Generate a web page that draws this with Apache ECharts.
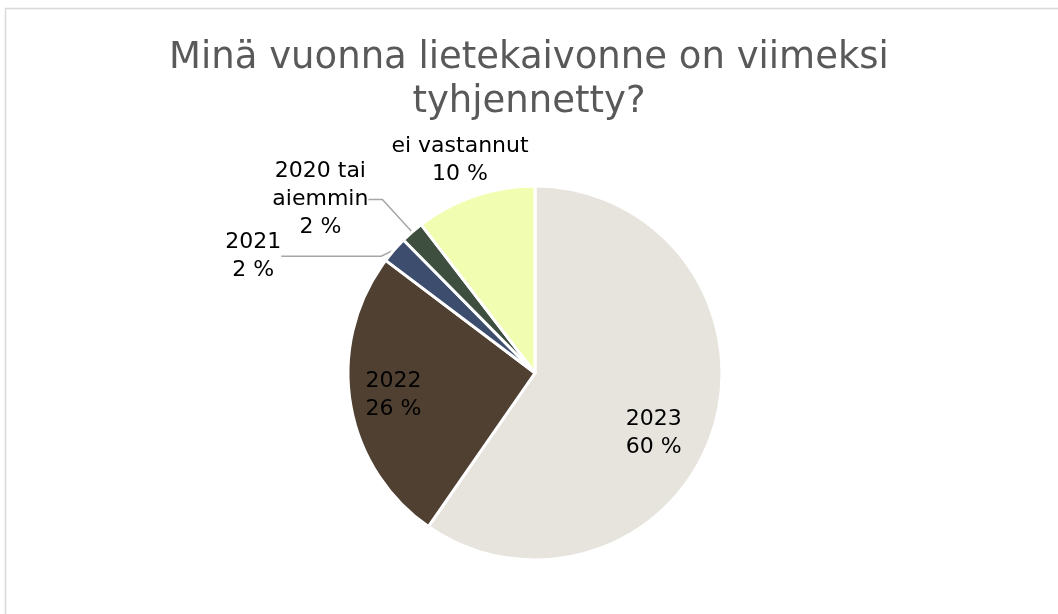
<!DOCTYPE html>
<html>
<head>
<meta charset="utf-8">
<script src="https://cdn.jsdelivr.net/npm/echarts@6/dist/echarts.min.js"></script>
<style>
  html, body { margin: 0; padding: 0; background: #fff; }
  #chart { width: 1058px; height: 614px; }
</style>
</head>
<body>
<div id="chart"></div>
<script>
// data
const categories = ['2023', '2022', '2021', '2020 tai\naiemmin', 'ei vastannut']
const shares = [59.6, 25.6, 2.3, 2.0, 10.4]
const colors = ['#e7e4de', '#4f4032', '#3d4d6e', '#3e4f40', '#f1fdb0']

const titleText = 'Minä vuonna lietekaivonne on viimeksi\ntyhjennetty?'

const chart = echarts.init(document.getElementById('chart'))

const R = 187
const center = [535, 373]
const labelFont = { fontFamily: 'DejaVu Sans', fontSize: 22, color: '#000', lineHeight: 28 }

// which labels go inside the slices, and leader line lengths for the outside ones
const inside = [true, true, false, false, false]
const lineLen = [[0, 0], [0, 0], [4, 100], [30, 14], [0, 0]]
// nudge of the outside labels against their leader line end
const labelNudge = [[0, 0], [0, 0], [-5, 9], [-5, -10], [0, 0]]

const fmt = p => p.name + '\n' + Math.round(p.percent) + ' %'

const mainData = categories.map((name, i) => ({
  name,
  value: shares[i],
  itemStyle: { color: colors[i] },
  label: { show: !inside[i] },
  labelLine: { show: !inside[i] && i !== 4, length: lineLen[i][0], length2: lineLen[i][1] }
}))

// transparent, larger copy: puts the inner labels further out like Excel does
const labelData = categories.map((name, i) => ({
  name,
  value: shares[i],
  itemStyle: { color: 'rgba(0,0,0,0)' },
  label: { show: inside[i], offset: i === 0 ? [-18, 17] : [0, 0] }
}))

const option = {
  backgroundColor: '#fff',
  animation: false,
  title: {
    text: titleText,
    left: 'center',
    top: 31,
    textStyle: {
      fontFamily: 'DejaVu Sans',
      fontWeight: 'normal',
      fontSize: 37,
      color: '#595959',
      lineHeight: 44
    }
  },
  graphic: [{
    type: 'rect',
    shape: { x: 5.5, y: 8.5, width: 1100, height: 700 },
    style: { fill: 'none', stroke: '#d9d9d9', lineWidth: 1.5 },
    silent: true
  }],
  series: [
    {
      type: 'pie',
      radius: R,
      center,
      startAngle: 90,
      clockwise: true,
      avoidLabelOverlap: false,
      data: mainData,
      itemStyle: { borderColor: '#fff', borderWidth: 3 },
      label: { position: 'outside', formatter: fmt, ...labelFont },
      labelLine: { lineStyle: { color: '#a6a6a6', width: 1.5 } },
      labelLayout: p => {
        const r = p.labelRect
        if (p.dataIndex === 4) {
          return { x: 460, y: 160, align: 'center', verticalAlign: 'middle' }
        }
        if (p.dataIndex === 2 || p.dataIndex === 3) {
          const n = labelNudge[p.dataIndex]
          return {
            x: r.x + r.width / 2 + n[0],
            y: r.y + r.height / 2 + n[1],
            align: 'center',
            verticalAlign: 'middle'
          }
        }
        return {}
      },
      emphasis: { disabled: true }
    },
    {
      type: 'pie',
      radius: R * 1.5,
      center,
      startAngle: 90,
      clockwise: true,
      silent: true,
      data: labelData,
      label: { position: 'inside', formatter: fmt, ...labelFont },
      labelLine: { show: false },
      emphasis: { disabled: true }
    }
  ]
}

chart.setOption(option)
</script>
</body>
</html>
